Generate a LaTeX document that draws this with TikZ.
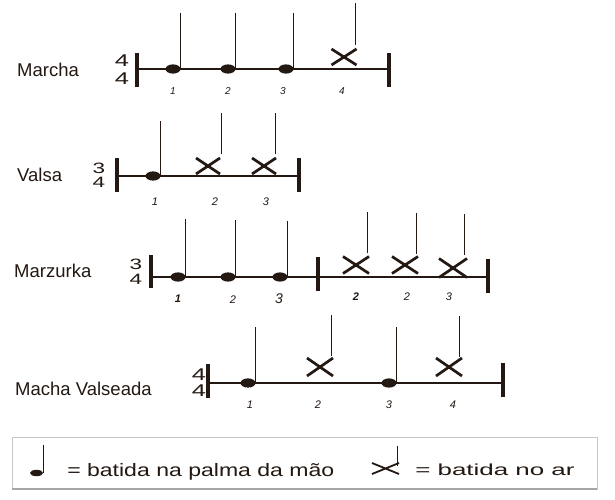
\documentclass[tikz,border=0pt]{standalone}
\usepackage{fontspec}
\setmainfont{Liberation Sans}
\setsansfont{Liberation Sans}
\definecolor{ink}{RGB}{35,24,18}
\tikzset{
  staffline/.style={ink, line width=2.9pt},
  barline/.style={ink, line width=4pt},
  stemline/.style={ink, line width=1pt},
  crossline/.style={ink, line width=2.7pt},
  rowname/.style={anchor=base west, inner sep=0, font=\fontsize{18.5}{20}\selectfont, text=ink},
  beat/.style={anchor=base, inner sep=0, font=\fontsize{10}{12}\selectfont\itshape, text=ink},
  beatb/.style={beat, font=\fontsize{10}{12}\selectfont\itshape\bfseries},
  tsig/.style={inner sep=0, font=\fontsize{17}{17}\selectfont, xscale=1.5, text=ink},
  tsigs/.style={inner sep=0, font=\fontsize{15}{15}\selectfont, xscale=1.5, text=ink},
}
\newcommand\Hit[4]{%
  \fill[ink] (#2,#3) ellipse [x radius=7.5, y radius=4.6];
  \coordinate (#1-s) at (#2+7,#3);
  \coordinate (#1-t) at (#2+7,#4);
  \draw[stemline] (#1-s) -- (#1-t);
}
\newcommand\Air[8]{%
  \coordinate (#1-a) at (#2-#4,#3-#5);
  \coordinate (#1-b) at (#2+#4,#3+#5);
  \coordinate (#1-c) at (#2-#4,#3+#5);
  \coordinate (#1-d) at (#2+#4,#3-#5);
  \draw[crossline] (#1-a) -- (#1-b) (#1-c) -- (#1-d);
  \coordinate (#1-s) at (#6,#8);
  \coordinate (#1-t) at (#6,#7);
  \draw[stemline] (#1-s) -- (#1-t);
}
\newcommand\Bar[4]{%
  \coordinate (#1-top) at (#2,#3);
  \coordinate (#1-bot) at (#2,#4);
  \draw[barline] (#1-top) -- (#1-bot);
}
\begin{document}
\begin{tikzpicture}[x=1pt,y=-1pt]
\useasboundingbox (0,0) rectangle (615,500);
\fill[white] (0,0) rectangle (615,500);

% ---------- Marcha ----------
\node[rowname] (lMarcha) at (17,77) {Marcha};
\node[tsig] (tMa1) at (122,61) {4};
\node[tsig] (tMa2) at (122,78.5) {4};
\coordinate (maL) at (137,69);
\coordinate (maR) at (389,69);
\draw[staffline] (maL) -- (maR);
\Bar{maB1}{137}{53}{87}
\Bar{maB2}{389}{53}{87}
\Hit{ma1}{173}{69}{13}
\Hit{ma2}{228}{69}{13}
\Hit{ma3}{286}{69}{13}
\Air{ma4}{344}{57}{12.5}{8}{355}{3}{45}
\node[beat] (nMa1) at (173,95) {1};
\node[beat] (nMa2) at (228,95) {2};
\node[beat] (nMa3) at (283,95) {3};
\node[beat] (nMa4) at (342,95) {4};

% ---------- Valsa ----------
\node[rowname] (lValsa) at (17,181.7) {Valsa};
\node[tsigs] (tVa1) at (99,168) {3};
\node[tsigs] (tVa2) at (99,182) {4};
\coordinate (vaL) at (117,176);
\coordinate (vaR) at (299,176);
\draw[staffline] (vaL) -- (vaR);
\Bar{vaB1}{117}{158}{192}
\Bar{vaB2}{299}{158}{192}
\Hit{va1}{153}{176}{121}
\Air{va2}{208}{166}{12}{8}{221}{113}{154}
\Air{va3}{264}{166}{12}{8}{275}{113}{154}
\node[beat, font=\fontsize{11}{12}\selectfont\itshape] (nVa1) at (155,205) {1};
\node[beat, font=\fontsize{11}{12}\selectfont\itshape] (nVa2) at (215,205) {2};
\node[beat, font=\fontsize{11}{12}\selectfont\itshape] (nVa3) at (266,205) {3};

% ---------- Marzurka ----------
\node[rowname] (lMarz) at (14,277.3) {Marzurka};
\node[tsigs] (tMz1) at (136,264) {3};
\node[tsigs] (tMz2) at (136,279) {4};
\coordinate (mzL) at (151,277);
\coordinate (mzR) at (488,277);
\draw[staffline] (mzL) -- (mzR);
\Bar{mzB1}{151}{255}{288}
\Bar{mzB2}{318}{257}{291}
\Bar{mzB3}{488}{259}{293}
\Hit{mz1}{178}{277}{219}
\Hit{mz2}{228}{277}{220}
\Hit{mz3}{280}{277}{221}
\Air{mz4}{356}{265}{13}{8.5}{367}{212}{253}
\Air{mz5}{405}{265}{13}{8.5}{416}{213}{254}
\Air{mz6}{453}{268}{14}{9.5}{464}{214}{255}
\node[beatb, font=\fontsize{11}{12}\selectfont\itshape\bfseries] (nMz1) at (178,302) {1};
\node[beat, font=\fontsize{11}{12}\selectfont\itshape] (nMz2) at (233,303) {2};
\node[beat, font=\fontsize{14}{14}\selectfont\itshape] (nMz3) at (279,303) {3};
\node[beatb, font=\fontsize{11}{12}\selectfont\itshape\bfseries] (nMz4) at (356,300) {2};
\node[beat, font=\fontsize{11}{12}\selectfont\itshape] (nMz5) at (407,300.7) {2};
\node[beat, font=\fontsize{11}{12}\selectfont\itshape] (nMz6) at (449,300.7) {3};

% ---------- Macha Valseada ----------
\node[rowname] (lMV) at (15,395.7) {Macha Valseada};
\node[tsig] (tMV1) at (199,375) {4};
\node[tsig] (tMV2) at (199,391) {4};
\coordinate (mvL) at (208,383);
\coordinate (mvR) at (503,383);
\draw[staffline] (mvL) -- (mvR);
\Bar{mvB1}{208}{364}{398}
\Bar{mvB2}{503}{363}{397}
\Hit{mv1}{248}{383}{327}
\Air{mv2}{320}{367}{13}{9}{331}{315}{356}
\Hit{mv3}{389}{383}{327}
\Air{mv4}{449}{367}{13}{9}{459}{316}{357}
\node[beat, font=\fontsize{11}{12}\selectfont\itshape] (nMV1) at (250,408) {1};
\node[beat, font=\fontsize{11}{12}\selectfont\itshape] (nMV2) at (318,408) {2};
\node[beat, font=\fontsize{11}{12}\selectfont\itshape] (nMV3) at (389,408) {3};
\node[beat, font=\fontsize{11}{12}\selectfont\itshape] (nMV4) at (453,408) {4};

% ---------- Legend ----------
\draw[black!22, line width=1pt] (12,437) rectangle (597,489);
\draw[black!35, line width=1.2pt] (12,489) -- (597,489);
\fill[ink] (36.5,473) ellipse [x radius=6.5, y radius=3.2];
\coordinate (lgS) at (43,473);
\coordinate (lgT) at (43,445);
\draw[stemline] (lgS) -- (lgT);
\node[anchor=base west, inner sep=0, font=\fontsize{18}{20}\selectfont, xscale=1.28, text=ink] (lg1) at (67,476.7) {= batida na palma da mão};
\coordinate (lxA) at (372,463);
\coordinate (lxB) at (399,474);
\coordinate (lxC) at (372,474);
\coordinate (lxD) at (399,463);
\draw[ink, line width=1.8pt] (lxA) -- (lxB) (lxC) -- (lxD);
\coordinate (lxS) at (397,466);
\coordinate (lxT) at (397,446);
\draw[stemline] (lxS) -- (lxT);
\node[anchor=base west, inner sep=0, font=\fontsize{16}{18}\selectfont, xscale=1.62, text=ink] (lg2) at (415,475) {= batida no ar};
\end{tikzpicture}
\end{document}
